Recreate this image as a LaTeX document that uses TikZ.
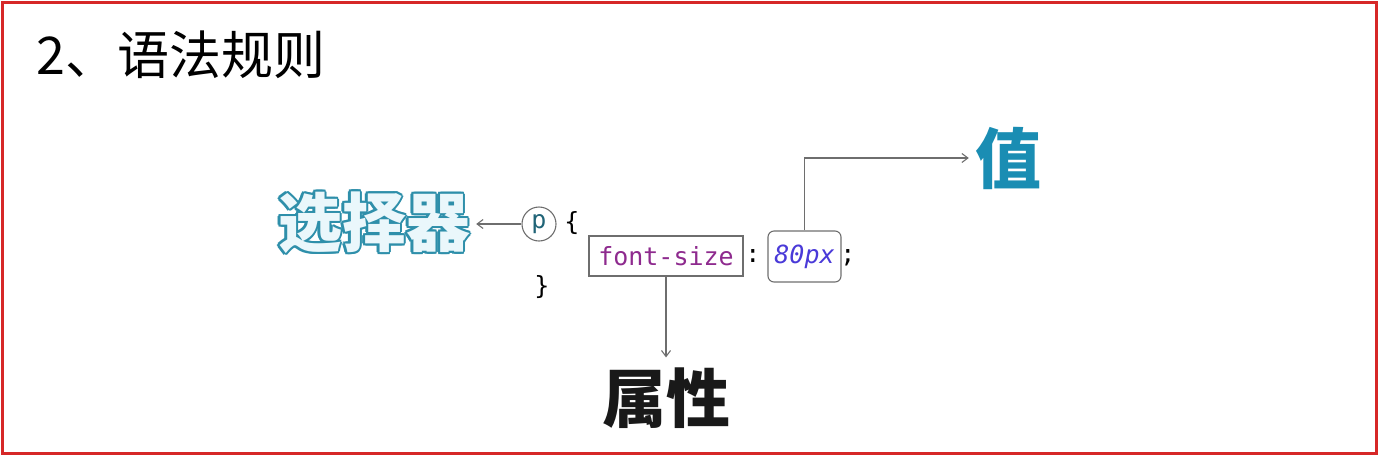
\documentclass[tikz,border=0pt]{standalone}
\usepackage{fontspec}
\usepackage{contour}
\newfontfamily\cjk{Noto Sans CJK SC}
\setmonofont{DejaVu Sans Mono}
\usetikzlibrary{arrows.meta}
\definecolor{framered}{HTML}{D62828}
\definecolor{selteal}{HTML}{2E8FAA}
\definecolor{selfill}{HTML}{EAF7FB}
\definecolor{valblue}{HTML}{1A8DB3}
\definecolor{proppurple}{HTML}{8E2A8E}
\definecolor{numblue}{HTML}{4A3AD8}
\definecolor{linegray}{HTML}{6E6E6E}
\contournumber{12}
\begin{document}
\begin{tikzpicture}[x=1pt,y=-1pt,
  conn/.style={draw=linegray, line width=1.1pt, -{Straight Barb[length=6pt,width=9pt]}},
  codetext/.style={font=\ttfamily\fontsize{25}{25}\selectfont, inner sep=0pt},
  bigword/.style={font=\cjk\bfseries\fontsize{64}{64}\selectfont, inner sep=4pt},
  codebox/.style={draw=linegray, line width=1.1pt, inner sep=0pt}]
\useasboundingbox (0,0) rectangle (1379,456);
\draw[framered, line width=3pt] (2.5,2.5) rectangle (1376.5,453.5);
\node[anchor=west, inner sep=0pt, font=\cjk\fontsize{52}{52}\selectfont] (title) at (36,55) {2、语法规则};

\node[bigword, inner sep=6pt] (sel) at (374,224) {\contourlength{2.2pt}{\color{selfill}\contour{selteal}{选择器}}};
\node[draw=linegray, line width=1.1pt, circle, minimum size=34pt, inner sep=0pt,
      font=\ttfamily\fontsize{25}{25}\selectfont, text=selteal!70!black] (p) at (539,224) {p};
\node[codetext] (lbrace) at (572,223) {\{};
\node[codetext] (rbrace) at (542,287) {\}};
\node[codebox, minimum width=154pt, minimum height=40pt, text=proppurple,
      font=\ttfamily\fontsize{25}{25}\selectfont] (fs) at (666,256) {font-size};
\node[codetext] (colon) at (753,256) {:};
\node[codebox, rounded corners=6pt, minimum width=73pt, minimum height=51pt, text=numblue,
      font=\ttfamily\itshape\fontsize{25}{25}\selectfont] (px) at (804.5,256.5) {80px};
\node[codetext] (semi) at (848,258) {;};

\node[bigword, inner sep=10pt, text=black!90] (attr) at (666,398) {属性};
\node[bigword, font=\cjk\bfseries\fontsize{66}{66}\selectfont, inner sep=6pt, text=valblue] (val) at (1008,158) {值};

\draw[conn] (p.west) -- (sel.east);
\draw[conn] (fs.south) -- (fs.south |- attr.north);
\draw[conn] (px.north) |- (val.west);
\end{tikzpicture}
\end{document}
